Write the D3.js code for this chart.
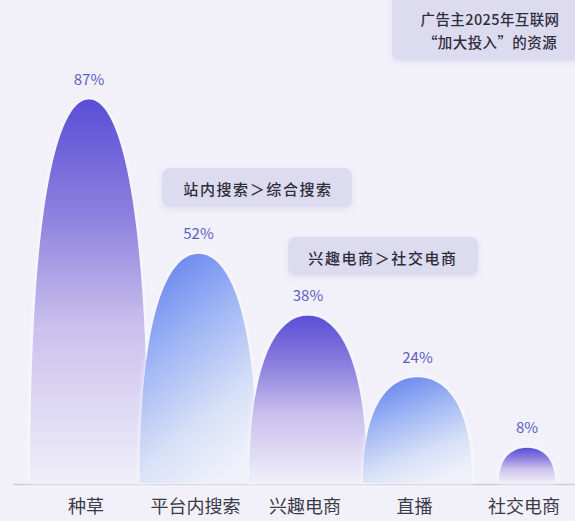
<!DOCTYPE html>
<html><head><meta charset="utf-8">
<script src="https://cdn.jsdelivr.net/npm/d3@7/dist/d3.min.js"></script>
<style>
html,body{margin:0;padding:0;background:#f2f1fa;}
svg{display:block;font-family:"Noto Sans CJK SC","Noto Sans",sans-serif;}
</style></head>
<body>
<svg id="c" width="575" height="521"></svg>
<script>
const categories = ["种草","平台内搜索","兴趣电商","直播","社交电商"];
const values = [87,52,38,24,8];
const valueLabels = ["87%","52%","38%","24%","8%"];
const colorKinds = ["purple","blue","purple","blue","purple"];
const notes = [
  {lines:["广告主2025年互联网","“加大投入”的资源"]},
  {lines:["站内搜索＞综合搜索"]},
  {lines:["兴趣电商＞社交电商"]}
];

const svg = d3.select("#c");
const W = 575, H = 521;
svg.append("rect").attr("width",W).attr("height",H).attr("fill","#f2f1fa");

const x = d3.scalePoint().domain(categories).range([89,527]);
const y = d3.scaleLinear().domain([0,100]).range([483,42]);

const defs = svg.append("defs");
const gp = defs.append("linearGradient").attr("id","gpurple").attr("x1",0).attr("y1",0).attr("x2",0).attr("y2",1);
gp.append("stop").attr("offset","0%").attr("stop-color","#5a4ed6");
gp.append("stop").attr("offset","30%").attr("stop-color","#8d80de");
gp.append("stop").attr("offset","60%").attr("stop-color","#cbc2ed");
gp.append("stop").attr("offset","100%").attr("stop-color","#f0eefa");
const gb = defs.append("linearGradient").attr("id","gblue").attr("x1",0.2).attr("y1",0).attr("x2",0.6).attr("y2",1);
gb.append("stop").attr("offset","0%").attr("stop-color","#6482ee");
gb.append("stop").attr("offset","40%").attr("stop-color","#a3b9f5");
gb.append("stop").attr("offset","75%").attr("stop-color","#d8e1f7");
gb.append("stop").attr("offset","100%").attr("stop-color","#eef0fa");
const glow = defs.append("filter").attr("id","glow").attr("x","-20%").attr("y","-20%").attr("width","140%").attr("height","140%");
glow.append("feDropShadow").attr("dx",0).attr("dy",0).attr("stdDeviation",2.5).attr("flood-color","#ffffff").attr("flood-opacity",0.9);
const sh = defs.append("filter").attr("id","sh").attr("x","-10%").attr("y","-20%").attr("width","120%").attr("height","150%");
sh.append("feDropShadow").attr("dx",0).attr("dy",2).attr("stdDeviation",3).attr("flood-color","#b8b4d8").attr("flood-opacity",0.35);

const base = y(0);
function shape(cx, top, w){
  const h = base - top;
  const l = cx - w/2, r = cx + w/2;
  return `M${l},${base} C${l},${base-h*0.74} ${cx-w*0.26},${top} ${cx},${top} C${cx+w*0.26},${top} ${r},${base-h*0.74} ${r},${base} Z`;
}

// baseline
svg.append("line").attr("x1",13).attr("x2",W).attr("y1",base+1.5).attr("y2",base+1.5)
  .attr("stroke","#cdccd8").attr("stroke-width",1.5);

const g = svg.append("g");
categories.forEach((c,i)=>{
  const cx = x(c), top = y(values[i]);
  const h = base - top;
  const w = Math.min(118, 30 + h*0.75);
  g.append("path").attr("d",shape(cx,top,w))
    .attr("fill", colorKinds[i]==="purple" ? "url(#gpurple)" : "url(#gblue)")
    .attr("filter","url(#glow)");
  svg.append("text").attr("x",cx).attr("y",top-21).attr("text-anchor","middle")
    .attr("dominant-baseline","central").attr("font-size",15).attr("fill","#5b5fc4")
    .text(valueLabels[i]);
});

// x axis labels
svg.append("g").selectAll("text").data(categories).join("text")
  .attr("x",d=>x(d)-3).attr("y",505).attr("text-anchor","middle").attr("dominant-baseline","central")
  .attr("font-size",18).attr("fill","#3b3b48").text(d=>d);

// annotation boxes
const boxes = [
  {x:392,y:-8,w:195,h:68,ty:[18,41],fs:14.5,cx:490,ls:0.4},
  {x:162,y:168,w:190,h:39,ty:[188],fs:15,cx:258,ls:1.6},
  {x:288,y:237,w:190,h:38,ty:[257],fs:15,cx:383,ls:1.6}
];
boxes.forEach((b,i)=>{
  svg.append("rect").attr("x",b.x).attr("y",b.y).attr("width",b.w).attr("height",b.h)
    .attr("rx",8).attr("fill","#dddbf0").attr("filter","url(#sh)");
  notes[i].lines.forEach((t,j)=>{
    svg.append("text").attr("x",b.cx).attr("y",b.ty[j]).attr("text-anchor","middle")
      .attr("dominant-baseline","central").attr("font-size",b.fs).attr("fill","#2e2e3a")
      .attr("font-weight",500).attr("letter-spacing",b.ls).text(t);
  });
});
</script>
</body></html>
